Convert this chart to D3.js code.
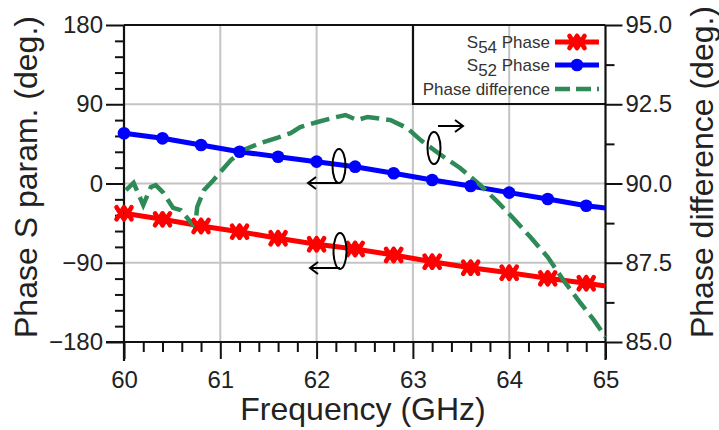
<!DOCTYPE html>
<html>
<head>
<meta charset="utf-8">
<script src="https://cdn.jsdelivr.net/npm/d3@7"></script>
<style>
  html, body { margin: 0; padding: 0; background: #fff; }
  svg { display: block; font-family: "Liberation Sans", Arial, sans-serif; }
</style>
</head>
<body>
<svg id="chart" width="719" height="430"></svg>
<script>
// Frequency sweep (GHz) and measured phases
const freq = [60, 60.4, 60.8, 61.2, 61.6, 62.0, 62.4, 62.8, 63.2, 63.6, 64.0, 64.4, 64.8, 65.0];
const s54Phase = [-33.8, -40.7, -48.3, -54.7, -62.2, -69.0, -74.4, -81.2, -88.8, -95.6, -101.3, -107.7, -113.3, -116.4];
const s52Phase = [57.0, 51.3, 43.7, 36.1, 30.4, 24.8, 19.1, 11.6, 4.0, -2.8, -10.4, -17.6, -25.2, -27.8];
const markerFreq = [60, 60.4, 60.8, 61.2, 61.6, 62.0, 62.4, 62.8, 63.2, 63.6, 64.0, 64.4, 64.8];

// Phase difference between the two outputs (right axis)
const diffFreq = [60.02, 60.10, 60.20, 60.28, 60.33, 60.41, 60.51, 60.59, 60.69, 60.74, 60.76, 60.83, 60.93,
  61.00, 61.11, 61.24, 61.42, 61.59, 61.73, 61.83, 62.01, 62.17, 62.30, 62.42, 62.53, 62.77, 62.94, 63.08,
  63.29, 63.49, 63.70, 63.88, 64.04, 64.22, 64.40, 64.56, 64.74, 64.88, 65.00];
const diffPhase = [89.79, 90.02, 89.32, 89.89, 89.95, 89.70, 89.23, 89.16, 88.79, 88.63, 89.26, 89.79, 90.11,
  90.36, 90.74, 91.06, 91.28, 91.44, 91.59, 91.78, 91.94, 92.07, 92.16, 92.00, 92.10, 92.00, 91.75, 91.37,
  90.90, 90.49, 89.95, 89.42, 88.91, 88.31, 87.68, 86.96, 86.23, 85.69, 85.16];

const xTicks = [60, 61, 62, 63, 64, 65];
const yLeftTicks = [-180, -90, 0, 90, 180];
const yRightTicks = [85.0, 87.5, 90.0, 92.5, 95.0];

const svg = d3.select("#chart");
const L = 124, R = 605.5, T = 25, B = 342;

const x = d3.scaleLinear().domain([60, 65]).range([L, R]);
const yL = d3.scaleLinear().domain([-180, 180]).range([B, T]);
const yR = d3.scaleLinear().domain([85, 95]).range([B, T]);

// grid
const grid = svg.append("g").attr("stroke", "#c4c4c4").attr("stroke-width", 2);
grid.selectAll("line.v").data(xTicks.slice(1, -1)).join("line")
  .attr("x1", d => x(d)).attr("x2", d => x(d)).attr("y1", T).attr("y2", B);
grid.selectAll("line.h").data(yLeftTicks.slice(1, -1)).join("line")
  .attr("x1", L).attr("x2", R).attr("y1", d => yL(d)).attr("y2", d => yL(d));

function styleAxis(g) {
  g.select(".domain").remove();
  g.selectAll(".tick line").attr("stroke", "#111").attr("stroke-width", 2);
  g.selectAll(".tick text").attr("fill", "#222").attr("font-size", 24);
}

// bottom axis
svg.append("g").attr("transform", `translate(0,${B})`)
  .call(d3.axisBottom(x).tickValues(xTicks).tickSize(17).tickPadding(12).tickFormat(d3.format("d")))
  .call(styleAxis);
svg.append("g").attr("transform", `translate(0,${B})`)
  .call(d3.axisBottom(x).tickValues(d3.range(60.2, 65, 0.2).filter(v => Math.abs(v - Math.round(v)) > 0.05))
    .tickSize(10).tickFormat(""))
  .call(styleAxis);

// left axis
svg.append("g").attr("transform", `translate(${L},0)`)
  .call(d3.axisLeft(yL).tickValues(yLeftTicks).tickSize(18).tickPadding(3))
  .call(styleAxis);
svg.append("g").attr("transform", `translate(${L},0)`)
  .call(d3.axisLeft(yL).tickValues(d3.range(-162, 180, 18).filter(v => v % 90 !== 0)).tickSize(9).tickFormat(""))
  .call(styleAxis);

// right axis
svg.append("g").attr("transform", `translate(${R},0)`)
  .call(d3.axisRight(yR).tickValues(yRightTicks).tickSize(17).tickPadding(3).tickFormat(d3.format(".1f")))
  .call(styleAxis);
svg.append("g").attr("transform", `translate(${R},0)`)
  .call(d3.axisRight(yR).tickValues([86.25, 88.75, 91.25, 93.75]).tickSize(9).tickFormat(""))
  .call(styleAxis);

// frame
const frame = svg.append("g").attr("stroke", "#111").attr("stroke-width", 2.2).attr("fill", "none");
frame.append("line").attr("x1", L).attr("x2", L).attr("y1", T).attr("y2", B + 19);
frame.append("line").attr("x1", R).attr("x2", R).attr("y1", T).attr("y2", B + 18);
frame.append("line").attr("x1", L - 18).attr("x2", R).attr("y1", B).attr("y2", B);
frame.append("line").attr("x1", L).attr("x2", R).attr("y1", T).attr("y2", T);

// series lines
const lineL = d3.line().x((d, i) => x(freq[i])).y(d => yL(d));
svg.append("path").datum(s54Phase).attr("d", lineL)
  .attr("fill", "none").attr("stroke", "#ff0000").attr("stroke-width", 5);
svg.append("path").datum(s52Phase).attr("d", lineL)
  .attr("fill", "none").attr("stroke", "#0000ff").attr("stroke-width", 5);

const lineDiff = d3.line().x((d, i) => x(diffFreq[i])).y(d => yR(d)).curve(d3.curveLinear);
svg.append("path").datum(diffPhase).attr("d", lineDiff)
  .attr("fill", "none").attr("stroke", "#2e8b57").attr("stroke-width", 4.5)
  .attr("stroke-dasharray", "19,7");

// markers
function redMarker(g) {
  g.append("path").attr("d", "M-7.5,-6L0,6M0,-6L-7.5,6M0,-6L7.5,6M7.5,-6L0,6")
    .attr("stroke", "#ff0000").attr("stroke-width", 4.6).attr("stroke-linecap", "round").attr("fill", "none");
}
function blueMarker(g) {
  g.append("path").attr("d", d3.symbol(d3.symbolCircle, 125)())
    .attr("fill", "#0000ff");
}
const s54ByFreq = new Map(freq.map((f, i) => [f, s54Phase[i]]));
const s52ByFreq = new Map(freq.map((f, i) => [f, s52Phase[i]]));
svg.append("g").selectAll("g").data(markerFreq).join("g")
  .attr("transform", f => `translate(${x(f)},${yL(s54ByFreq.get(f))})`)
  .each(function () { redMarker(d3.select(this)); });
svg.append("g").selectAll("g").data(markerFreq).join("g")
  .attr("transform", f => `translate(${x(f)},${yL(s52ByFreq.get(f))})`)
  .each(function () { blueMarker(d3.select(this)); });

// annotations: ellipses with arrows pointing to the relevant axis
const ann = svg.append("g").attr("stroke", "#000").attr("stroke-width", 2).attr("fill", "none");
function annotate(cx, cy, ry, ax1, ax2, ay, dir) {
  ann.append("ellipse").attr("cx", cx).attr("cy", cy).attr("rx", 6.5).attr("ry", ry);
  ann.append("line").attr("x1", ax1).attr("x2", ax2).attr("y1", ay).attr("y2", ay);
  const tip = dir < 0 ? Math.min(ax1, ax2) : Math.max(ax1, ax2);
  ann.append("path").attr("d", `M${tip - dir * 8},${ay - 6}L${tip},${ay}L${tip - dir * 8},${ay + 6}`);
}
annotate(339, 166, 17, 339, 308, 183, -1);
annotate(340, 251, 18, 340, 310, 268, -1);
annotate(434, 148, 16, 438, 463, 126, 1);

// legend
const leg = svg.append("g");
leg.append("path").attr("d", `M413,${T}V104H${R}`).attr("fill", "none").attr("stroke", "#111").attr("stroke-width", 2.2);
const legRows = [
  { sub: "54", label: " Phase", y: 42, kind: "red" },
  { sub: "52", label: " Phase", y: 65, kind: "blue" },
  { sub: null, label: "Phase difference", y: 89, kind: "green" }
];
legRows.forEach(r => {
  const t = leg.append("text").attr("x", 550).attr("y", r.y + 6).attr("text-anchor", "end")
    .attr("font-size", 17).attr("fill", "#333");
  if (r.sub) {
    t.append("tspan").text("S");
    t.append("tspan").attr("dy", 5).text(r.sub);
    t.append("tspan").attr("dy", -5).text(r.label);
  } else {
    t.text(r.label);
  }
  const color = r.kind === "red" ? "#ff0000" : r.kind === "blue" ? "#0000ff" : "#2e8b57";
  const ln = leg.append("line").attr("x1", 555).attr("x2", 599).attr("y1", r.y).attr("y2", r.y)
    .attr("stroke", color).attr("stroke-width", r.kind === "green" ? 4.5 : 5);
  if (r.kind === "green") ln.attr("stroke-dasharray", "15,6");
  const m = leg.append("g").attr("transform", `translate(577,${r.y})`);
  if (r.kind === "red") redMarker(m);
  if (r.kind === "blue") blueMarker(m);
});

// axis titles
svg.append("text").attr("x", 363).attr("y", 420).attr("text-anchor", "middle")
  .attr("font-size", 32).attr("fill", "#222").text("Frequency (GHz)");
svg.append("text").attr("transform", "translate(37,177) rotate(-90)").attr("text-anchor", "middle")
  .attr("font-size", 32).attr("fill", "#222").text("Phase S param. (deg.)");
svg.append("text").attr("transform", "translate(713,172) rotate(-90)").attr("text-anchor", "middle")
  .attr("font-size", 32).attr("fill", "#222").text("Phase difference (deg.)");
</script>
</body>
</html>
